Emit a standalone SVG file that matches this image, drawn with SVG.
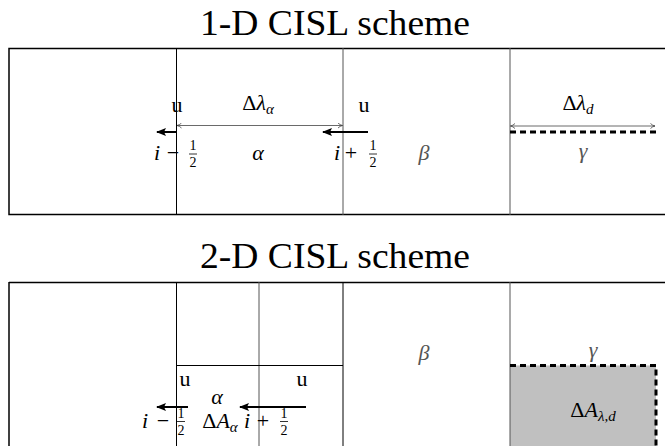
<svg xmlns="http://www.w3.org/2000/svg" width="665" height="446" viewBox="0 0 665 446">
<style>
text{font-family:'Liberation Serif','Tinos','Times New Roman','DejaVu Serif',serif}
.title{font-size:36px;fill:#000;text-anchor:middle}
.m{font-style:italic;font-size:22px;fill:#000;text-anchor:middle}
.r{font-size:22px;fill:#000;text-anchor:middle}
.f{font-size:14px;fill:#000;text-anchor:middle}
.s{font-style:italic;font-size:15px;fill:#000}
.g{fill:#555}
.box{fill:none;stroke:#000;stroke-width:1.5}
.vl{stroke:#000;stroke-width:1}
.vg{stroke:#555;stroke-width:1}
.dbl{stroke:#444;stroke-width:0.8;fill:none;marker-start:url(#open);marker-end:url(#open)}
.thick{stroke:#000;stroke-width:2;fill:none;marker-end:url(#head)}
.dash{stroke:#000;stroke-width:3;fill:none;stroke-dasharray:6 4}
.bar{stroke:#000;stroke-width:0.8}
</style>
<defs>
<marker id="head" viewBox="0 0 10 8" refX="9" refY="4" markerWidth="10" markerHeight="8" markerUnits="userSpaceOnUse" orient="auto">
<path d="M0,0 L10,4 L0,8 L2,4 Z" fill="#000"/>
</marker>
<marker id="open" viewBox="0 0 6 6" refX="5.5" refY="3" markerWidth="6" markerHeight="6" markerUnits="userSpaceOnUse" orient="auto-start-reverse">
<path d="M1,0.5 Q3,2.5 5.5,3 Q3,3.5 1,5.5" fill="none" stroke="#444" stroke-width="0.8"/>
</marker>
</defs>

<!-- Panel 1 -->
<g id="panel1">
<text class="title" x="335" y="35" textLength="270" lengthAdjust="spacingAndGlyphs">1-D CISL scheme</text>
<rect class="box" x="9" y="48.5" width="700" height="166"/>
<line class="vl" x1="176.5" y1="48" x2="176.5" y2="215"/>
<line class="vg" x1="343" y1="48" x2="343" y2="215"/>
<line class="vg" x1="510" y1="48" x2="510" y2="215"/>
</g>

<g id="connectors1">
<line class="dbl" x1="177" y1="125.5" x2="342.5" y2="125.5"/>
<line class="thick" x1="177" y1="132" x2="157" y2="132"/>
<line class="thick" x1="368" y1="132" x2="323" y2="132"/>
<line class="dbl" x1="510.5" y1="126" x2="655" y2="126"/>
<line class="dash" x1="510" y1="132" x2="657" y2="132"/>
</g>

<g id="labels1">
<text class="m" x="258" y="110"><tspan font-style="normal">Δ</tspan>λ<tspan class="s" dy="4">α</tspan></text>
<text class="r" x="177" y="112">u</text>
<text class="r" x="364" y="112">u</text>
<text class="m" x="578" y="110"><tspan font-style="normal">Δ</tspan>λ<tspan class="s" dy="4">d</tspan></text>
<g id="im">
<text class="m" x="157" y="160">i</text>
<text class="r" x="173" y="160">−</text>
<text class="f" x="193" y="150">1</text>
<line class="bar" x1="189" y1="154" x2="197" y2="154"/>
<text class="f" x="193" y="167">2</text>
</g>
<text class="m" x="258" y="160">α</text>
<g id="ip">
<text class="m" x="337" y="160">i</text>
<text class="r" x="351" y="160">+</text>
<text class="f" x="373" y="150">1</text>
<line class="bar" x1="369" y1="154" x2="377" y2="154"/>
<text class="f" x="373" y="167">2</text>
</g>
<text class="m g" x="424" y="160">β</text>
<text class="m g" x="583" y="158">γ</text>
</g>

<!-- Panel 2 -->
<g id="panel2">
<text class="title" x="335" y="268" textLength="270" lengthAdjust="spacingAndGlyphs">2-D CISL scheme</text>
<rect x="510" y="365.5" width="146" height="90" fill="#c0c0c0"/>
<line class="box" x1="9" y1="282.5" x2="665" y2="282.5"/>
<line class="box" x1="9" y1="282" x2="9" y2="446"/>
<line class="vl" x1="176.5" y1="282" x2="176.5" y2="446"/>
<line class="vg" x1="259" y1="282" x2="259" y2="446"/>
<line class="vl" x1="343" y1="282" x2="343" y2="446" stroke-width="1.5"/>
<line class="vg" x1="510" y1="282" x2="510" y2="446"/>
<line class="vl" x1="176" y1="365.5" x2="343" y2="365.5"/>
<path class="dash" d="M510,365.5 H656 V446"/>
</g>

<g id="connectors2">
<line class="thick" x1="188" y1="407" x2="157" y2="407"/>
<line class="thick" x1="306" y1="407" x2="240" y2="407"/>
</g>

<g id="labels2">
<text class="m g" x="424" y="360">β</text>
<text class="m g" x="593" y="357">γ</text>
<text class="m" x="593" y="417"><tspan font-style="normal">Δ</tspan>A<tspan class="s" dy="4">λ,d</tspan></text>
<text class="r" x="185" y="386">u</text>
<text class="r" x="302" y="386">u</text>
<text class="m" x="217" y="404">α</text>
<text class="m" x="145" y="428">i</text>
<text class="r" x="163" y="428">−</text>
<text class="f" x="181" y="418">1</text>
<line class="bar" x1="177" y1="421.5" x2="185" y2="421.5"/>
<text class="f" x="181" y="435">2</text>
<text class="m" x="220" y="428"><tspan font-style="normal">Δ</tspan>A<tspan class="s" dy="4">α</tspan></text>
<text class="m" x="247" y="428">i</text>
<text class="r" x="263" y="428">+</text>
<text class="f" x="284" y="418">1</text>
<line class="bar" x1="280" y1="421.5" x2="288" y2="421.5"/>
<text class="f" x="284" y="435">2</text>
</g>
</svg>
